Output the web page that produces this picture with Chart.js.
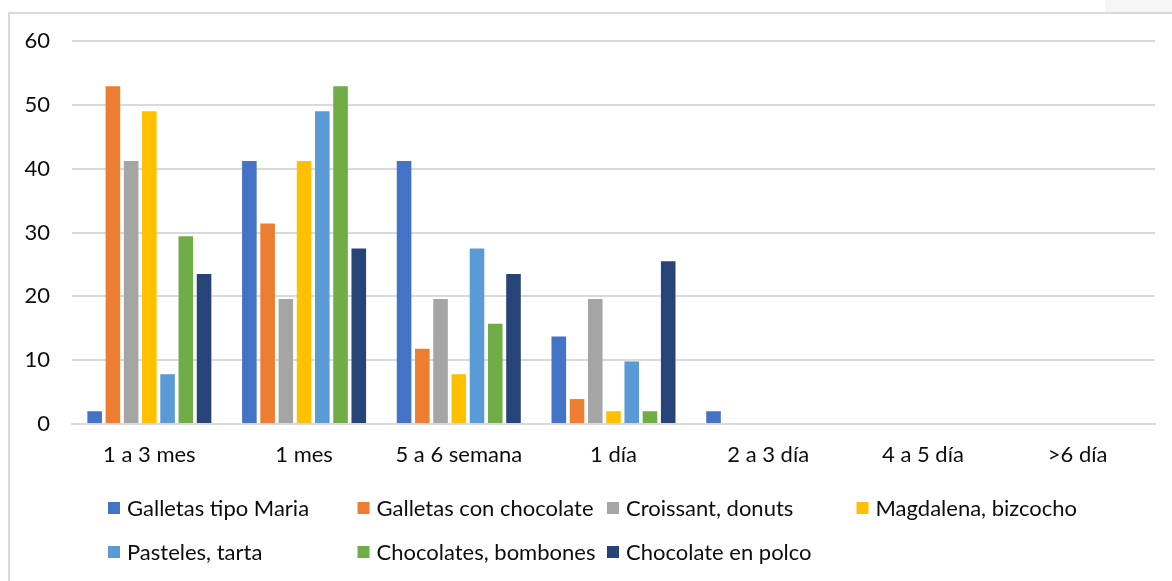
<!DOCTYPE html>
<html>
<head>
<meta charset="utf-8">
<script src="https://cdn.jsdelivr.net/npm/chart.js@4/dist/chart.umd.min.js"></script>
<style>
  html, body { margin: 0; padding: 0; background: #ffffff; }
  #wrap { position: relative; width: 1172px; height: 581px; overflow: hidden; }
  #frame { position: absolute; left: 8px; top: 12px; width: 1300px; height: 700px;
           border-left: 2px solid #d9d9d9; border-top: 2px solid #d9d9d9; box-sizing: border-box; }
  #tab { position: absolute; left: 1105px; top: 0; width: 67px; height: 12px; background: #f4f5f7; }
  canvas { position: absolute; left: 0; top: 0; }
</style>
</head>
<body>
<div id="wrap">
  <div id="tab"></div>
  <div id="frame"></div>
  <canvas id="c" width="1172" height="581"></canvas>
</div>
<script>
// Frequency of consumption (% of respondents)
const categories = ['1 a 3 mes', '1 mes', '5 a 6 semana', '1 día', '2 a 3 día', '4 a 5 día', '>6 día'];
const seriesNames = ['Galletas tipo Maria', 'Galletas con chocolate', 'Croissant, donuts',
                     'Magdalena, bizcocho', 'Pasteles, tarta', 'Chocolates, bombones', 'Chocolate en polco'];
const galletasMaria      = [2.0, 41.2, 41.2, 13.7, 2.0, 0, 0];
const galletasChocolate  = [52.9, 31.4, 11.8, 3.9, 0, 0, 0];
const croissantDonuts    = [41.2, 19.6, 19.6, 19.6, 0, 0, 0];
const magdalenaBizcocho  = [49.0, 41.2, 7.8, 2.0, 0, 0, 0];
const pastelesTarta      = [7.8, 49.0, 27.5, 9.8, 0, 0, 0];
const chocolatesBombones = [29.4, 52.9, 15.7, 2.0, 0, 0, 0];
const chocolatePolvo     = [23.5, 27.5, 23.5, 25.5, 0, 0, 0];
const yTicks = [0, 10, 20, 30, 40, 50, 60];

const seriesValues = [galletasMaria, galletasChocolate, croissantDonuts, magdalenaBizcocho,
                      pastelesTarta, chocolatesBombones, chocolatePolvo];
const colors = ['#4472C4', '#ED7D31', '#A5A5A5', '#FFC000', '#5B9BD5', '#70AD47', '#264478'];

const FONT = 'Lato, "Open Sans", sans-serif';
const FONT_SIZE = 22;
const TEXT = '#0d0d0d';

// Legend laid out in fixed-width columns, wrapping after four entries
const gridLegend = {
  id: 'gridLegend',
  afterDraw(chart) {
    const ctx = chart.ctx;
    const startX = 108, colW = 249.5, rowY = [508, 552], perRow = 4, box = 12;
    ctx.save();
    ctx.font = FONT_SIZE + 'px ' + FONT;
    ctx.textBaseline = 'middle';
    ctx.textAlign = 'left';
    chart.data.datasets.forEach((ds, i) => {
      const x = startX + (i % perRow) * colW;
      const y = rowY[Math.floor(i / perRow)];
      ctx.fillStyle = ds.backgroundColor;
      ctx.fillRect(x, y - box / 2, box, box);
      ctx.fillStyle = TEXT;
      ctx.fillText(ds.label, x + box + 7, y + 1);
    });
    ctx.restore();
  }
};

new Chart(document.getElementById('c'), {
  type: 'bar',
  data: {
    labels: categories,
    datasets: seriesNames.map((name, i) => ({
      label: name,
      data: seriesValues[i],
      backgroundColor: colors[i],
      borderWidth: 0,
      categoryPercentage: 0.825,
      barPercentage: 0.8
    }))
  },
  options: {
    responsive: false,
    animation: false,
    devicePixelRatio: 1,
    layout: { padding: { left: 0, right: 17, top: 41, bottom: 0 } },
    plugins: { legend: { display: false }, tooltip: { enabled: false } },
    scales: {
      x: {
        grid: { display: false, drawTicks: false },
        border: { display: true, color: '#d9d9d9', width: 2 },
        ticks: { color: TEXT, font: { family: FONT, size: FONT_SIZE }, padding: 18, maxRotation: 0 },
        afterFit(scale) { scale.height = 157; }
      },
      y: {
        min: 0, max: 60,
        afterBuildTicks(scale) { scale.ticks = yTicks.map(v => ({ value: v })); },
        grid: { color: '#d9d9d9', lineWidth: 2, drawTicks: false },
        border: { display: false },
        ticks: { color: TEXT, font: { family: FONT, size: FONT_SIZE }, padding: 22 },
        afterFit(scale) { scale.width = 72; }
      }
    }
  },
  plugins: [gridLegend]
});
</script>
</body>
</html>
